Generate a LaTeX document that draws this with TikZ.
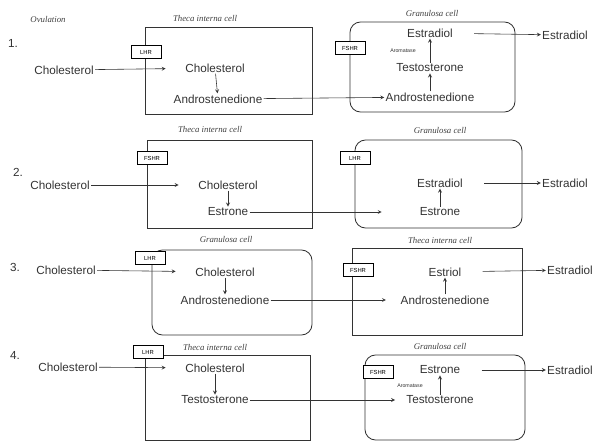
\documentclass[tikz,border=0pt]{standalone}
\usepackage{fontspec}
\setmainfont{Liberation Sans}
\newfontfamily\handfont{Liberation Serif}
\usepackage{tikz}

\tikzset{
  sub/.style={font=\fontsize{10}{11}\selectfont, text=black!80, inner sep=1pt},
  enz/.style={draw, fill=white, font=\fontsize{5}{6}\selectfont, inner sep=1.5pt, minimum width=0.9cm, minimum height=0.4cm, line width=0.4pt},
  celltag/.style={font=\handfont\itshape\fontsize{7.5}{8}\selectfont, text=black!75},
  arom/.style={font=\fontsize{4.5}{5}\selectfont, text=black!80},
  thecabox/.style={draw, line width=0.7pt, black!80},
  granbox/.style={draw, line width=0.7pt, black!80, rounded corners=9pt},
  flow/.style={->, >=stealth, line width=0.5pt, black!80},
  inflow/.style={flow, shorten >=0.55cm},
  outflow/.style={flow, shorten <=0.6cm}
}

\begin{document}
\begin{tikzpicture}[x=0.03cm, y=-0.03cm]
    \useasboundingbox (0,0) rectangle (603,447);

    % draw heading
    \node[celltag] (ovul) at (48,20) {Ovulation};

    % ---------------- row 1 ----------------
    \draw[thecabox] (145,27) rectangle (312,114);
    \draw[granbox] (350,22) rectangle (515,112);
    \node[celltag] (tag1a) at (205,18) {Theca interna cell};
    \node[celltag] (tag1b) at (432,14) {Granulosa cell};
    \node[sub] (num1) at (13,43) {1.};
    \node[sub] (chol1) at (64,70) {Cholesterol};
    \node[enz] (lhr1) at (146,52) {LHR};
    \node[sub] (chol1a) at (215,68) {Cholesterol};
    \node[sub] (andr1a) at (218,99) {Androstenedione};
    \node[enz] (fshr1) at (350,48) {FSHR};
    \node[sub] (estd1b) at (430,33) {Estradiol};
    \node[sub] (test1b) at (430,68) {Testosterone};
    \node[sub] (andr1b) at (430,97) {Androstenedione};
    \node[arom] (arom1) at (403,51) {Aromatase};
    \node[sub] (out1) at (565,35) {Estradiol};
    \draw[inflow] (chol1) -- (chol1a);
    \draw[flow] (chol1a) -- (andr1a);
    \draw[flow] (andr1a) -- (andr1b);
    \draw[flow] (andr1b) -- (test1b);
    \draw[flow] (test1b) -- (estd1b);
    \draw[outflow] (estd1b) -- (out1);

    % ---------------- row 2 ----------------
    \draw[thecabox] (147,140) rectangle (312,228);
    \draw[granbox] (355,140) rectangle (522,228);
    \node[celltag] (tag2a) at (210,129) {Theca interna cell};
    \node[celltag] (tag2b) at (440,131) {Granulosa cell};
    \node[sub] (num2) at (18,172) {2.};
    \node[sub] (chol2) at (60,185) {Cholesterol};
    \node[enz] (fshr2) at (152,158) {FSHR};
    \node[sub] (chol2a) at (228,185) {Cholesterol};
    \node[sub] (estr2a) at (228,212) {Estrone};
    \node[enz] (lhr2) at (355,158) {LHR};
    \node[sub] (estd2b) at (440,183) {Estradiol};
    \node[sub] (estr2b) at (440,212) {Estrone};
    \node[sub] (out2) at (565,183) {Estradiol};
    \draw[inflow] (chol2) -- (chol2a);
    \draw[flow] (chol2a) -- (estr2a);
    \draw[flow, shorten >=1.1cm] (estr2a) -- (estr2b);
    \draw[flow] (estr2b) -- (estd2b);
    \draw[outflow] (estd2b) -- (out2);

    % ---------------- row 3 ----------------
    \draw[granbox] (152,250) rectangle (312,335);
    \draw[thecabox] (352,248) rectangle (522,335);
    \node[celltag] (tag3a) at (226,240) {Granulosa cell};
    \node[celltag] (tag3b) at (440,240) {Theca interna cell};
    \node[sub] (num3) at (15,267) {3.};
    \node[sub] (chol3) at (66,270) {Cholesterol};
    \node[enz] (lhr3) at (150,258) {LHR};
    \node[sub] (chol3a) at (225,272) {Cholesterol};
    \node[sub] (andr3a) at (225,300) {Androstenedione};
    \node[enz] (fshr3) at (358,270) {FSHR};
    \node[sub] (estl3b) at (445,272) {Estriol};
    \node[sub] (andr3b) at (445,300) {Androstenedione};
    \node[sub] (out3) at (570,270) {Estradiol};
    \draw[inflow] (chol3) -- (chol3a);
    \draw[flow] (chol3a) -- (andr3a);
    \draw[flow, shorten >=0.4cm] (andr3a) -- (andr3b);
    \draw[flow] (andr3b) -- (estl3b);
    \draw[outflow] (estl3b) -- (out3);

    % ---------------- row 4 ----------------
    \draw[thecabox] (145,355) rectangle (310,440);
    \draw[granbox] (365,355) rectangle (525,440);
    \node[celltag] (tag4a) at (215,347) {Theca interna cell};
    \node[celltag] (tag4b) at (440,347) {Granulosa cell};
    \node[sub] (num4) at (15,355) {4.};
    \node[sub] (chol4) at (68,367) {Cholesterol};
    \node[enz] (lhr4) at (148,352) {LHR};
    \node[sub] (chol4a) at (215,368) {Cholesterol};
    \node[sub] (test4a) at (215,400) {Testosterone};
    \node[enz] (fshr4) at (378,372) {FSHR};
    \node[sub] (estr4b) at (440,370) {Estrone};
    \node[sub] (test4b) at (440,400) {Testosterone};
    \node[arom] (arom4) at (410,386) {Aromatase};
    \node[sub] (out4) at (570,370) {Estradiol};
    \draw[inflow] (chol4) -- (chol4a);
    \draw[flow] (chol4a) -- (test4a);
    \draw[flow, shorten >=0.3cm] (test4a) -- (test4b);
    \draw[flow] (test4b) -- (estr4b);
    \draw[outflow] (estr4b) -- (out4);
\end{tikzpicture}
\end{document}
